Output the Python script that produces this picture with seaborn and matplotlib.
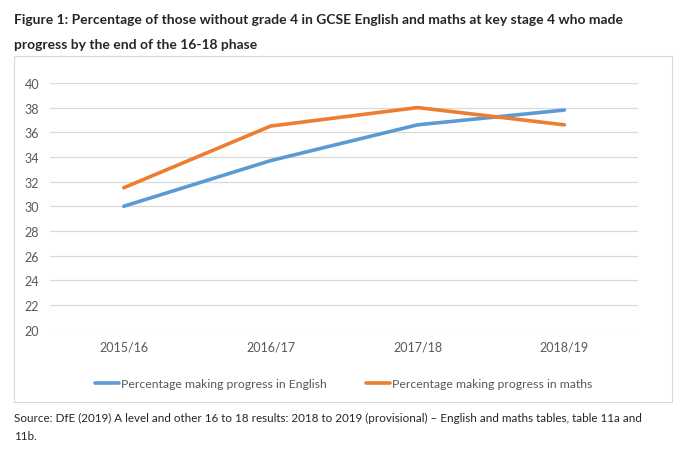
import matplotlib
matplotlib.use("Agg")
import matplotlib.pyplot as plt
from matplotlib.patches import Rectangle
import seaborn as sns
import pandas as pd

# data
years = ["2015/16", "2016/17", "2017/18", "2018/19"]
english = [30.0, 33.7, 36.6, 37.8]
maths = [31.5, 36.5, 38.0, 36.6]
series_names = ["Percentage making progress in English",
                "Percentage making progress in maths"]

BLUE = "#5B9BD5"
ORANGE = "#ED7D31"
GREY_TXT = "#595959"

df = pd.DataFrame({
    "year": years * 2,
    "value": english + maths,
    "series": [series_names[0]] * len(years) + [series_names[1]] * len(years),
})

sns.set_style("white")
plt.rcParams["font.family"] = ["Lato", "DejaVu Sans"]

fig = plt.figure(figsize=(6.8, 4.56), dpi=100)
ax = fig.add_axes([0.074, 0.275, 0.864, 0.541])

# chart frame
fig.patches.append(Rectangle((14 / 680, 1 - 403 / 456), 658 / 680, 346 / 456,
                             transform=fig.transFigure, fill=False,
                             edgecolor="#D9D9D9", linewidth=0.8, zorder=0))

sns.lineplot(data=df, x="year", y="value", hue="series", sort=False,
             palette=[BLUE, ORANGE], linewidth=2.6, ax=ax, legend=False)

ax.set_xlim(-0.5, 3.5)
ax.set_ylim(20, 40)
ax.set_yticks(range(20, 41, 2))
ax.yaxis.grid(True, color="#D9D9D9", linewidth=0.9)
ax.xaxis.grid(False)
for s in ax.spines.values():
    s.set_visible(False)
ax.tick_params(axis="both", length=0, labelsize=9, colors=GREY_TXT, pad=8)
ax.set_xlabel("")
ax.set_ylabel("")

# legend
handles = [plt.Line2D([], [], color=BLUE, linewidth=2.6),
           plt.Line2D([], [], color=ORANGE, linewidth=2.6)]
leg = fig.legend(handles, series_names, loc="center", ncol=2,
                 bbox_to_anchor=(0.505, 1 - 385 / 456), frameon=False,
                 fontsize=8.8, handlelength=2.0, handletextpad=0.15,
                 columnspacing=3.2)
for t in leg.get_texts():
    t.set_color(GREY_TXT)

# title
fig.text(14 / 680, 1 - 20 / 456,
         "Figure 1: Percentage of those without grade 4 in GCSE English and maths at key stage 4 who made",
         fontsize=10, fontweight="bold", va="center", ha="left")
fig.text(14 / 680, 1 - 45 / 456,
         "progress by the end of the 16-18 phase",
         fontsize=10, fontweight="bold", va="center", ha="left")

# source
fig.text(14 / 680, 1 - 418 / 456,
         "Source: DfE (2019) A level and other 16 to 18 results: 2018 to 2019 (provisional) \u2013 English and maths tables, table 11a and",
         fontsize=8.4, va="center", ha="left")
fig.text(14 / 680, 1 - 437 / 456, "11b.", fontsize=8.4, va="center", ha="left")

fig.savefig("out.png", dpi=100)
